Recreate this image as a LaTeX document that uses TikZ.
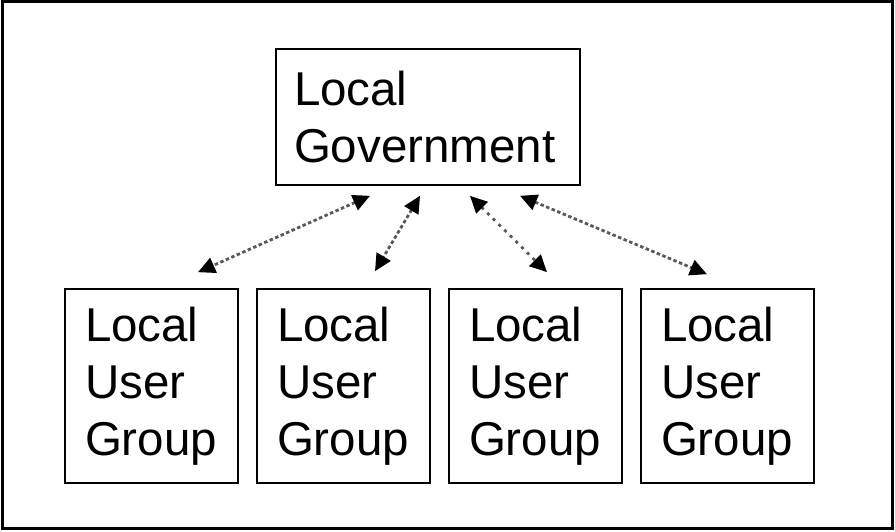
\documentclass[tikz,border=0pt]{standalone}
\usepackage{fontspec}
\setmainfont{Liberation Sans}
\usetikzlibrary{arrows.meta, shadows}
\tikzset{
  govbox/.style = {rectangle, draw=black, line width=1.6pt, fill=white, minimum width=304pt, minimum height=136pt, text width=268pt, align=left, inner sep=0pt, font=\fontsize{47.5}{57}\selectfont, drop shadow={shadow xshift=1.2pt, shadow yshift=-1.2pt, opacity=1, fill=black}},
  userbox/.style = {rectangle, draw=black, line width=1.6pt, fill=white, minimum width=173pt, minimum height=194pt, text width=133pt, align=left, inner sep=0pt, font=\fontsize{47.5}{57}\selectfont, drop shadow={shadow xshift=1.2pt, shadow yshift=-1.2pt, opacity=1, fill=black}},
  link/.style = {line width=2.8pt, black!65, dash pattern=on 3.5pt off 2.5pt, {Triangle[length=17pt,width=16pt,color=black]}-{Triangle[length=17pt,width=16pt,color=black]}}
}
\begin{document}
\begin{tikzpicture}[x=1pt, y=1pt]
  \useasboundingbox (0,0) rectangle (895,531);
  \draw[line width=3pt] (2.5,2.5) rectangle (892,529);

  \node (gov) [govbox] at (428,414) {Local\\Government};
  \node (ug1) [userbox] at (151.5,145) {Local\\User\\Group};
  \node (ug2) [userbox] at (343.5,145) {Local\\User\\Group};
  \node (ug3) [userbox] at (535.5,145) {Local\\User\\Group};
  \node (ug4) [userbox] at (727.5,145) {Local\\User\\Group};

  \draw [link] ([xshift=-58pt,yshift=-10pt]gov.south) -- ([xshift=46.5pt,yshift=16pt]ug1.north);
  \draw [link] ([xshift=-8pt,yshift=-10pt]gov.south) -- ([xshift=31.5pt,yshift=17pt]ug2.north);
  \draw [link, dash pattern=on 3pt off 5pt] ([xshift=42pt,yshift=-10pt]gov.south) -- ([xshift=11.5pt,yshift=16pt]ug3.north);
  \draw [link] ([xshift=92pt,yshift=-10pt]gov.south) -- ([xshift=-20.5pt,yshift=14pt]ug4.north);
\end{tikzpicture}
\end{document}
